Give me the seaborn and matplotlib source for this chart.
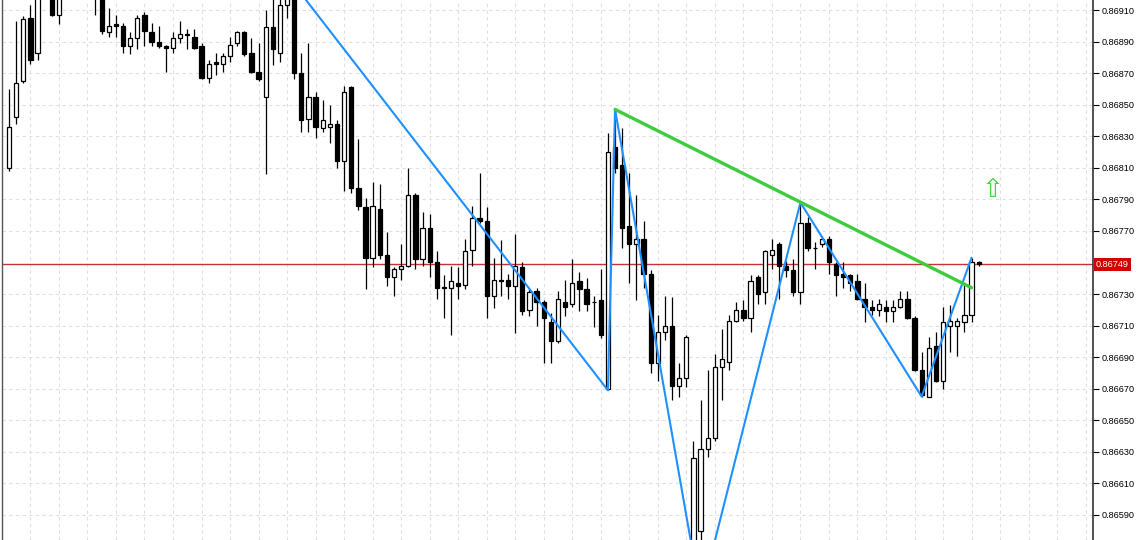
import numpy as np
import pandas as pd
import matplotlib
matplotlib.use("Agg")
import matplotlib.pyplot as plt
import matplotlib.transforms as mtransforms
import seaborn as sns

# ---------------- data ----------------
open_ = [0.86810, 0.86842, 0.86865, 0.86905, 0.86883, 0.86925, 0.86935, 0.86907, 0.86930, 0.86950,
         0.86940, 0.86952, 0.86940, 0.86925, 0.86896, 0.86901, 0.86900, 0.86887, 0.86892, 0.86907,
         0.86896, 0.86890, 0.86887, 0.86886, 0.86892, 0.86895, 0.86893, 0.86887, 0.86867, 0.86877,
         0.86876, 0.86881, 0.86889, 0.86896, 0.86883, 0.86871, 0.86855, 0.86899, 0.86883, 0.86913,
         0.86918, 0.86870, 0.86841, 0.86855, 0.86835, 0.86836, 0.86838, 0.86814, 0.86861, 0.86797,
         0.86785, 0.86753, 0.86784, 0.86755, 0.86741, 0.86746, 0.86748, 0.86793, 0.86752, 0.86772,
         0.86750, 0.86734, 0.86734, 0.86737, 0.86736, 0.86758, 0.86778, 0.86776, 0.86729, 0.86739,
         0.86739, 0.86735, 0.86747, 0.86720, 0.86732, 0.86725, 0.86712, 0.86700, 0.86725, 0.86724,
         0.86738, 0.86733, 0.86725, 0.86726, 0.86670, 0.86823, 0.86812, 0.86773, 0.86762, 0.86765,
         0.86743, 0.86686, 0.86706, 0.86710, 0.86672, 0.86677, 0.86561, 0.86580, 0.86632, 0.86639,
         0.86684, 0.86687, 0.86713, 0.86720, 0.86715, 0.86741, 0.86731, 0.86755, 0.86762, 0.86748,
         0.86745, 0.86731, 0.86775, 0.86759, 0.86762, 0.86765, 0.86749, 0.86743, 0.86742, 0.86738,
         0.86727, 0.86722, 0.86720, 0.86722, 0.86719, 0.86722, 0.86727, 0.86715, 0.86682, 0.86665,
         0.86697, 0.86675, 0.86710, 0.86710, 0.86712, 0.86717, 0.86750]
high = [0.86860, 0.86903, 0.86906, 0.86913, 0.86935, 0.86950, 0.86945, 0.86938, 0.86955, 0.86965,
        0.86958, 0.86962, 0.86945, 0.86930, 0.86911, 0.86907, 0.86902, 0.86896, 0.86907, 0.86909,
        0.86902, 0.86900, 0.86888, 0.86896, 0.86903, 0.86898, 0.86898, 0.86889, 0.86878, 0.86883,
        0.86883, 0.86893, 0.86897, 0.86897, 0.86892, 0.86889, 0.86910, 0.86919, 0.86920, 0.86924,
        0.86926, 0.86883, 0.86889, 0.86858, 0.86853, 0.86850, 0.86840, 0.86862, 0.86862, 0.86828,
        0.86791, 0.86801, 0.86800, 0.86769, 0.86747, 0.86762, 0.86810, 0.86794, 0.86782, 0.86781,
        0.86757, 0.86742, 0.86748, 0.86747, 0.86765, 0.86786, 0.86807, 0.86785, 0.86753, 0.86764,
        0.86743, 0.86768, 0.86750, 0.86734, 0.86734, 0.86726, 0.86718, 0.86732, 0.86739, 0.86752,
        0.86744, 0.86740, 0.86729, 0.86746, 0.86832, 0.86847, 0.86835, 0.86807, 0.86793, 0.86776,
        0.86745, 0.86717, 0.86729, 0.86728, 0.86686, 0.86704, 0.86637, 0.86663, 0.86682, 0.86692,
        0.86708, 0.86717, 0.86725, 0.86726, 0.86742, 0.86742, 0.86758, 0.86765, 0.86763, 0.86751,
        0.86752, 0.86788, 0.86779, 0.86763, 0.86767, 0.86767, 0.86750, 0.86750, 0.86743, 0.86743,
        0.86737, 0.86726, 0.86727, 0.86726, 0.86726, 0.86732, 0.86732, 0.86716, 0.86693, 0.86703,
        0.86706, 0.86722, 0.86723, 0.86715, 0.86737, 0.86753, 0.86751]
low = [0.86808, 0.86838, 0.86864, 0.86876, 0.86878, 0.86918, 0.86906, 0.86901, 0.86925, 0.86935,
       0.86930, 0.86928, 0.86907, 0.86895, 0.86893, 0.86893, 0.86883, 0.86882, 0.86885, 0.86887,
       0.86887, 0.86886, 0.86871, 0.86883, 0.86889, 0.86885, 0.86885, 0.86866, 0.86864, 0.86869,
       0.86871, 0.86877, 0.86887, 0.86881, 0.86870, 0.86865, 0.86806, 0.86875, 0.86877, 0.86905,
       0.86866, 0.86833, 0.86833, 0.86829, 0.86833, 0.86826, 0.86810, 0.86795, 0.86794, 0.86783,
       0.86733, 0.86747, 0.86752, 0.86735, 0.86729, 0.86739, 0.86747, 0.86746, 0.86748, 0.86741,
       0.86727, 0.86715, 0.86704, 0.86727, 0.86733, 0.86748, 0.86775, 0.86715, 0.86721, 0.86729,
       0.86727, 0.86705, 0.86717, 0.86716, 0.86710, 0.86686, 0.86686, 0.86699, 0.86716, 0.86722,
       0.86719, 0.86719, 0.86709, 0.86702, 0.86669, 0.86807, 0.86759, 0.86737, 0.86726, 0.86734,
       0.86680, 0.86675, 0.86701, 0.86663, 0.86665, 0.86671, 0.86555, 0.86538, 0.86627, 0.86637,
       0.86663, 0.86682, 0.86712, 0.86713, 0.86706, 0.86724, 0.86724, 0.86746, 0.86727, 0.86741,
       0.86729, 0.86724, 0.86757, 0.86746, 0.86760, 0.86743, 0.86729, 0.86734, 0.86732, 0.86726,
       0.86712, 0.86717, 0.86716, 0.86712, 0.86712, 0.86721, 0.86714, 0.86681, 0.86665, 0.86665,
       0.86674, 0.86670, 0.86693, 0.86691, 0.86706, 0.86712, 0.86748]
close = [0.86836, 0.86864, 0.86904, 0.86878, 0.86925, 0.86940, 0.86907, 0.86930, 0.86950, 0.86940,
         0.86952, 0.86935, 0.86925, 0.86897, 0.86900, 0.86900, 0.86887, 0.86892, 0.86905, 0.86897,
         0.86890, 0.86887, 0.86886, 0.86892, 0.86895, 0.86894, 0.86886, 0.86867, 0.86876, 0.86876,
         0.86881, 0.86888, 0.86896, 0.86882, 0.86871, 0.86866, 0.86899, 0.86885, 0.86913, 0.86918,
         0.86870, 0.86840, 0.86855, 0.86836, 0.86840, 0.86838, 0.86814, 0.86858, 0.86797, 0.86786,
         0.86753, 0.86786, 0.86755, 0.86741, 0.86746, 0.86748, 0.86793, 0.86752, 0.86772, 0.86750,
         0.86734, 0.86734, 0.86738, 0.86735, 0.86757, 0.86778, 0.86776, 0.86729, 0.86739, 0.86738,
         0.86735, 0.86748, 0.86719, 0.86731, 0.86725, 0.86715, 0.86700, 0.86727, 0.86722, 0.86737,
         0.86733, 0.86724, 0.86725, 0.86704, 0.86820, 0.86810, 0.86772, 0.86762, 0.86765, 0.86743,
         0.86686, 0.86706, 0.86710, 0.86672, 0.86677, 0.86703, 0.86626, 0.86632, 0.86639, 0.86684,
         0.86689, 0.86713, 0.86720, 0.86715, 0.86738, 0.86730, 0.86757, 0.86758, 0.86748, 0.86745,
         0.86731, 0.86775, 0.86759, 0.86759, 0.86765, 0.86750, 0.86742, 0.86741, 0.86737, 0.86727,
         0.86722, 0.86720, 0.86724, 0.86719, 0.86722, 0.86727, 0.86715, 0.86682, 0.86666, 0.86696,
         0.86675, 0.86712, 0.86713, 0.86713, 0.86717, 0.86750, 0.86749]

zigzag_idx = [40, 84, 85, 97, 111, 128, 135]
zigzag_price = [0.86926, 0.86669, 0.86847, 0.86538, 0.86788, 0.86665, 0.86753]
trend_idx = [85, 135]
trend_price = [0.86847, 0.86734]
bid_price = 0.86749
signal_idx = [138]
signal_price = [0.86796]
ytick_values = [0.86590, 0.86610, 0.86630, 0.86650, 0.86670, 0.86690, 0.86710, 0.86730,
                0.86770, 0.86790, 0.86810, 0.86830, 0.86850, 0.86870, 0.86890, 0.86910]

# ---------------- style ----------------
sns.set_style("white")
plt.rcParams['font.family'] = ['Liberation Sans', 'DejaVu Sans']

df = pd.DataFrame({"idx": np.arange(len(open_)), "o": open_, "h": high, "l": low, "c": close})
df["bull"] = df["c"] >= df["o"]
df["bottom"] = df[["o", "c"]].min(axis=1)
df["height"] = (df["c"] - df["o"]).abs().clip(lower=0.000002)

W, H = 1140, 540
fig = plt.figure(figsize=(W / 100, H / 100), dpi=100)
ax = fig.add_axes([2 / W, 0, 1091 / W, 1])

# wicks
ax.vlines(df["idx"], df["l"], df["h"], color="black", lw=0.9, zorder=3)
# bodies
bull = df[df["bull"]]
bear = df[~df["bull"]]
ax.bar(bull["idx"], bull["height"], bottom=bull["bottom"], width=0.6,
       facecolor="white", edgecolor="black", lw=0.9, zorder=4)
ax.bar(bear["idx"], bear["height"], bottom=bear["bottom"], width=0.6,
       facecolor="black", edgecolor="black", lw=0.9, zorder=4)

# bid line
ax.axhline(bid_price, color="#c83232", lw=1.0, zorder=2)

# zigzag and trend lines
sns.lineplot(x=zigzag_idx, y=zigzag_price, ax=ax, color="#1e90ff", lw=1.5,
             estimator=None, sort=False, zorder=5)
sns.lineplot(x=trend_idx, y=trend_price, ax=ax, color="#3ccc3c", lw=2.4,
             estimator=None, sort=False, zorder=5)

# signal arrow
ax.text(signal_idx[0], signal_price[0], "\u21e7", ha="center", va="center",
        color="#44d444", fontsize=19, family=["DejaVu Sans"], zorder=6)

# axes limits
px = 0.0002 / 31.56
ax.set_xlim(-7 / 7.13, 1084 / 7.13)
ax.set_ylim(0.86910 - 530 * px, 0.86910 + 10 * px)

# ticks & grid
ax.yaxis.tick_right()
ax.set_yticks(ytick_values)
ax.set_yticklabels([f"{v:.5f}" for v in ytick_values])
ax.tick_params(axis="y", direction="out", length=4, width=0.8, pad=2,
               labelsize=6.6, colors="black")
ax.set_xticks(np.arange(3, 152, 4))
ax.tick_params(axis="x", length=0, labelbottom=False)
ax.grid(True, color="#e0e0e0", ls=(0, (3, 3)), lw=0.8)
ax.set_axisbelow(True)
ax.set_xlabel("")
ax.set_ylabel("")

for s in ["top", "bottom"]:
    ax.spines[s].set_visible(False)
ax.spines["left"].set_color("#555555")
ax.spines["left"].set_linewidth(1.0)
ax.spines["right"].set_color("#333333")
ax.spines["right"].set_linewidth(1.2)

# bid price label
trans = mtransforms.blended_transform_factory(ax.transAxes, ax.transData)
ax.text(1.0025, bid_price, f"{bid_price:.5f}", transform=trans, ha="left", va="center",
        color="white", fontsize=6.6, clip_on=False, zorder=10,
        bbox=dict(boxstyle="square,pad=0.22", fc="#d40000", ec="none"))

fig.savefig("out.png", dpi=100)
